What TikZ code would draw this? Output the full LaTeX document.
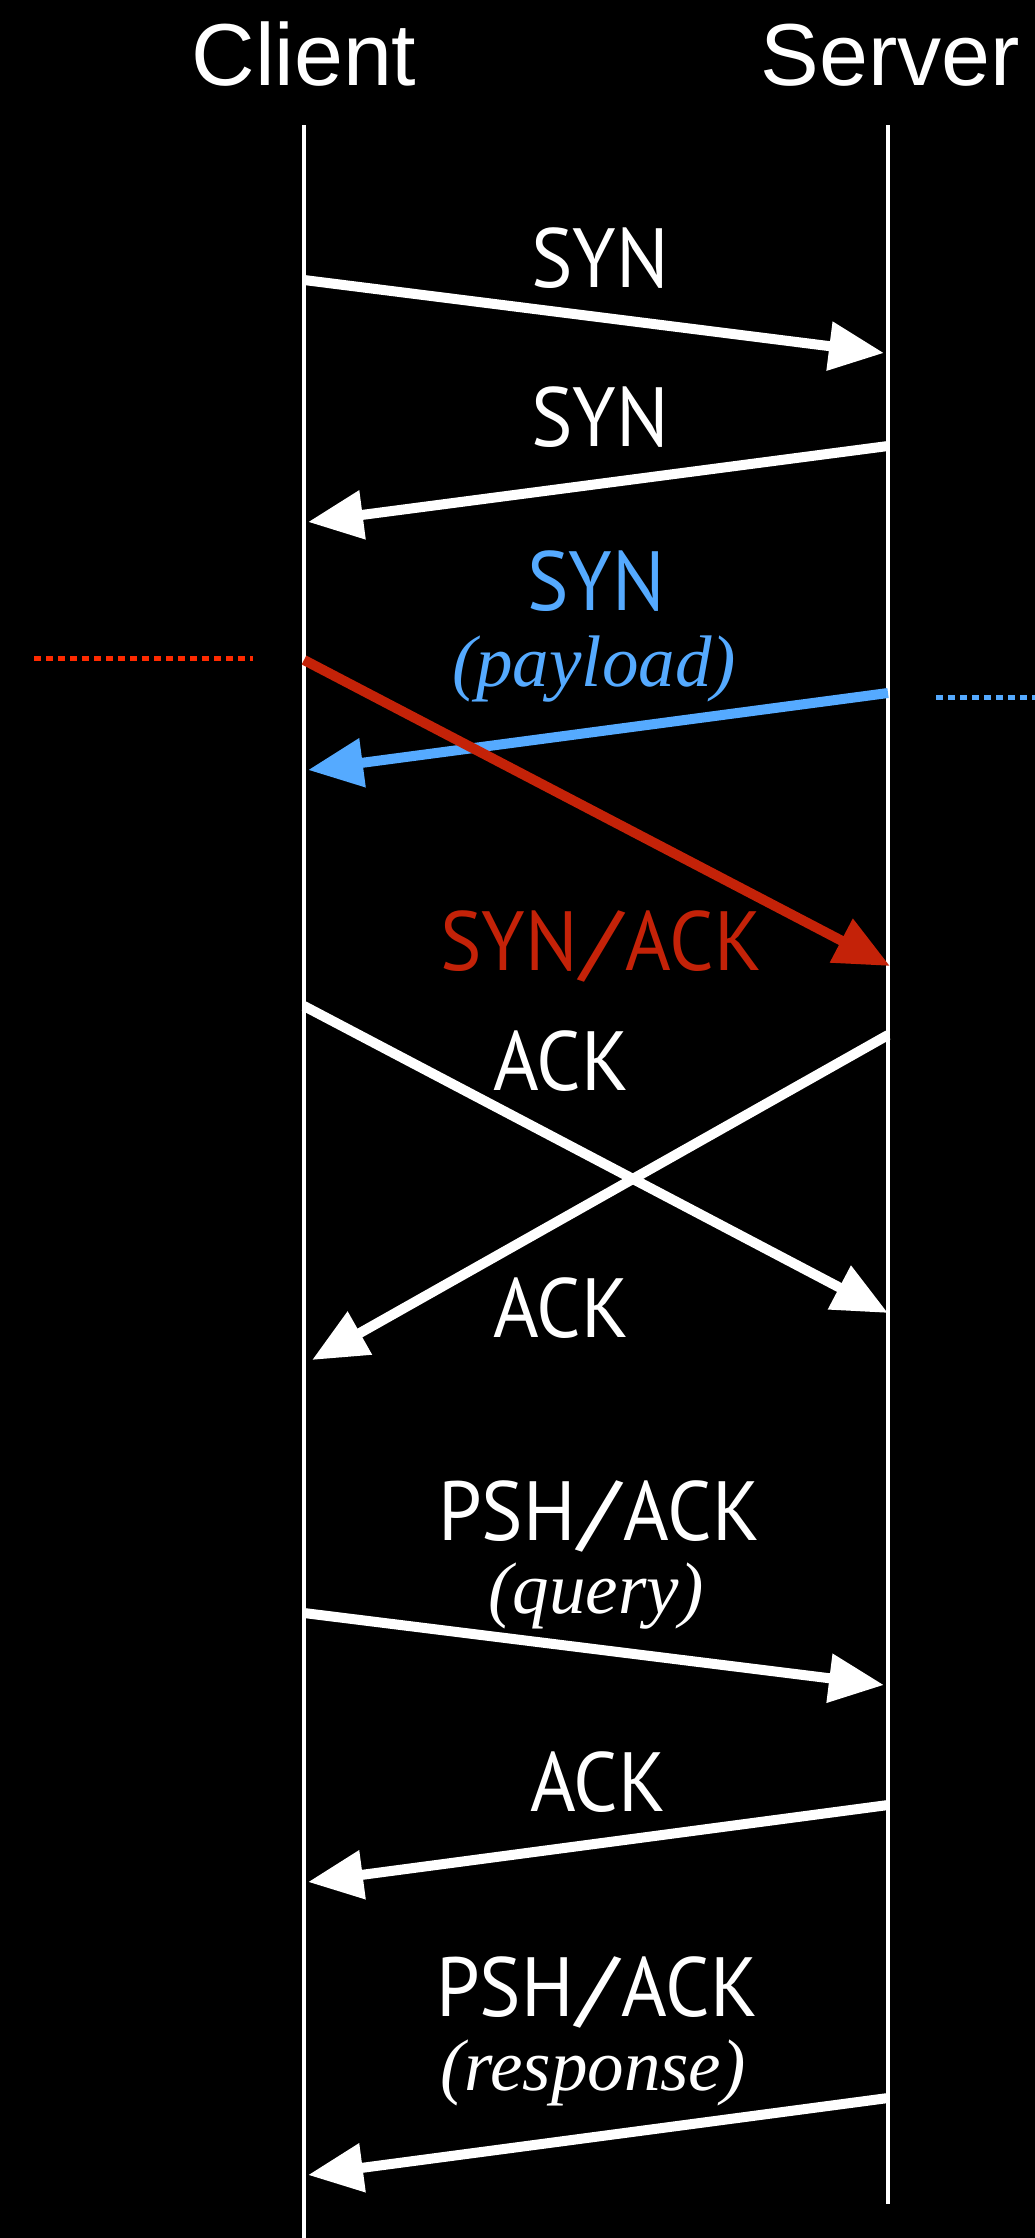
\documentclass[tikz,border=0pt]{standalone}
\usepackage{fontspec}
\usepackage{graphicx}
\setmainfont{Liberation Serif}
\newfontfamily\headfont{Liberation Sans}
\newfontfamily\labfont[FakeStretch=0.93]{PT Sans}
\newcommand\wideslash{\kern4pt\scalebox{1.45}[1]{/}\kern4pt}
\usetikzlibrary{arrows.meta}
\definecolor{pktblue}{HTML}{55AAFF}
\definecolor{pktred}{HTML}{C42208}
\definecolor{dotred}{HTML}{FF2A00}
\tikzset{
  head/.style={text=white, inner sep=0pt, anchor=base, font=\headfont\fontsize{88}{100}\selectfont},
  lab/.style={text=white, inner sep=0pt, anchor=base, font=\labfont\fontsize{84}{96}\selectfont},
  sub/.style={text=white, inner sep=0pt, anchor=base, font=\itshape\fontsize{73}{84}\selectfont},
  life/.style={draw=white, line width=4pt},
  msg/.style={draw=white, line width=10pt, -{Triangle[length=55pt,width=47pt]}},
  dots/.style={line width=5pt, dash pattern=on 7pt off 5pt},
}
\begin{document}
\begin{tikzpicture}[x=1pt, y=-1pt]
\fill[black] (0,0) rectangle (1035,2238);
\useasboundingbox (0,0) rectangle (1035,2238);

% headers
\node[head] (client) at (304,85) {Client};
\node[head] (server) at (890,85) {Server};

% lifelines
\coordinate (ctop) at (304,125);
\coordinate (cbot) at (304,2238);
\coordinate (stop) at (888,125);
\coordinate (sbot) at (888,2204);
\draw[life] (ctop) -- (cbot);
\draw[life] (stop) -- (sbot);

% labels
\node[lab] (l1) at (600,287) {SYN};
\node[lab] (l2) at (600,446) {SYN};
\node[lab, text=pktblue] (l3) at (596,610) {SYN};
\node[sub, text=pktblue] (l3b) at (594,686) {(payload)};
\node[lab, text=pktred] (l4) at (601,970) {SYN\wideslash ACK};
\node[lab] (l5) at (561,1090) {ACK};
\node[lab] (l6) at (561,1337) {ACK};
\node[lab] (l7) at (599,1540) {PSH\wideslash ACK};
\node[sub] (l7b) at (596,1613) {(query)};
\node[lab] (l8) at (598,1811) {ACK};
\node[lab] (l9) at (597,2016) {PSH\wideslash ACK};
\node[sub] (l9b) at (593,2090) {(response)};

% endpoints
\coordinate (a1s) at (304,280);  \coordinate (a1e) at (884,353);
\coordinate (a2s) at (888,446);  \coordinate (a2e) at (308,522);
\coordinate (a3s) at (888,693);  \coordinate (a3e) at (308,770);
\coordinate (a4s) at (304,660);  \coordinate (a4e) at (890,966);
\coordinate (a5s) at (304,1006); \coordinate (a5e) at (888,1313);
\coordinate (a6s) at (888,1035); \coordinate (a6e) at (312,1360);
\coordinate (a7s) at (304,1613); \coordinate (a7e) at (884,1685);
\coordinate (a8s) at (888,1805); \coordinate (a8e) at (308,1882);
\coordinate (a9s) at (888,2098); \coordinate (a9e) at (308,2175);

% dotted markers
\coordinate (rd1) at (34,658);  \coordinate (rd2) at (253,658);
\coordinate (bd1) at (936,697); \coordinate (bd2) at (1035,697);
\draw[dots, dotred] (rd1) -- (rd2);
\draw[dots, pktblue] (bd1) -- (bd2);

% messages
\draw[msg] (a1s) -- (a1e);
\draw[msg] (a2s) -- (a2e);
\draw[msg, draw=pktblue, fill=pktblue] (a3s) -- (a3e);
\draw[msg, draw=pktred, fill=pktred] (a4s) -- (a4e);
\draw[msg] (a5s) -- (a5e);
\draw[msg] (a6s) -- (a6e);
\draw[msg] (a7s) -- (a7e);
\draw[msg] (a8s) -- (a8e);
\draw[msg] (a9s) -- (a9e);
\end{tikzpicture}
\end{document}
